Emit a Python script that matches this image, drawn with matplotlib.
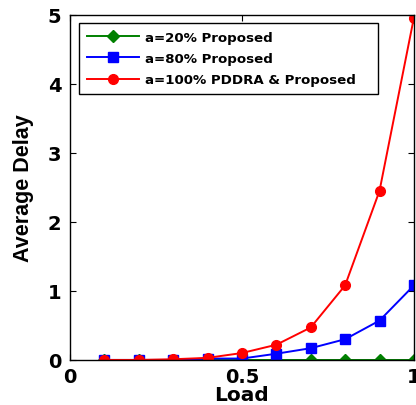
import matplotlib
matplotlib.use("Agg")
import matplotlib.pyplot as plt
from matplotlib import font_manager

load = [0.1, 0.2, 0.3, 0.4, 0.5, 0.6, 0.7, 0.8, 0.9, 1.0]
delay_a20 = [0.0, 0.0, 0.0, 0.0, 0.0, 0.0, 0.0, 0.0, 0.0, 0.0]
delay_a80 = [0.0, 0.0, 0.0, 0.02, 0.02, 0.09, 0.17, 0.30, 0.57, 1.08]
delay_a100 = [0.0, 0.0, 0.01, 0.03, 0.10, 0.22, 0.47, 1.08, 2.45, 4.96]
labels = ["a=20% Proposed", "a=80% Proposed", "a=100% PDDRA & Proposed"]

plt.rcParams['font.family'] = ['DejaVu Sans']
plt.rcParams['font.weight'] = 'bold'

names = {f.name for f in font_manager.fontManager.ttflist}
ylab_family = ['Liberation Sans Narrow'] if 'Liberation Sans Narrow' in names else ['Liberation Sans']
ylab_size = 17 if 'Liberation Sans Narrow' in names else 15.5

fig = plt.figure(figsize=(4.16, 4.06), dpi=100)
ax = fig.add_axes([0.168, 0.111, 0.827, 0.850])

ax.plot(load, delay_a20, color='#008000', marker='D', markersize=6, lw=1.4, label=labels[0])
ax.plot(load, delay_a80, color='#0000ff', marker='s', markersize=7, lw=1.4, label=labels[1])
ax.plot(load, delay_a100, color='#ff0000', marker='o', markersize=7, lw=1.4, label=labels[2])

ax.set_xlim(0, 1)
ax.set_ylim(0, 5)
ax.set_xticks([0, 0.5, 1])
ax.set_xticklabels(['0', '0.5', '1'])
ax.set_yticks([0, 1, 2, 3, 4, 5])
ax.tick_params(direction='in', top=True, right=True, labelsize=14, length=4)
ax.tick_params(axis='x', pad=5)
ax.tick_params(axis='y', pad=6)
for lab in ax.get_xticklabels() + ax.get_yticklabels():
    lab.set_fontweight('bold')
ax.set_xlabel('Load', fontsize=14.5, fontweight='bold', labelpad=-0.5)
ax.set_ylabel('Average Delay', family=ylab_family, fontsize=ylab_size,
              fontweight='bold', labelpad=10)
for s in ax.spines.values():
    s.set_linewidth(1.0)

leg = ax.legend(loc='upper left', bbox_to_anchor=(0.026, 0.977, 0.869, 0.0),
                mode='expand', borderaxespad=0,
                prop={'family': 'DejaVu Sans', 'weight': 'bold', 'size': 9.6},
                fancybox=False, framealpha=1, edgecolor='black',
                handlelength=3.9, handletextpad=0.5, borderpad=0.6, labelspacing=0.62)
leg.get_frame().set_linewidth(1.0)

fig.savefig('out.png', dpi=100)
